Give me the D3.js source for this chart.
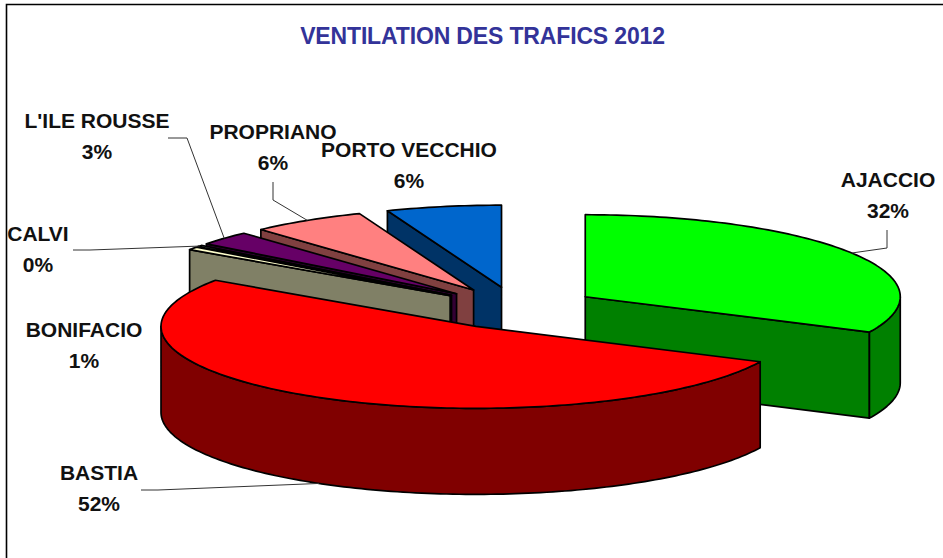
<!DOCTYPE html>
<html>
<head>
<meta charset="utf-8">
<script src="https://cdnjs.cloudflare.com/ajax/libs/d3/7.8.5/d3.min.js"></script>
<style>
  html, body { margin: 0; padding: 0; background: #fff; }
  svg { display: block; }
  text { font-family: "Liberation Sans", Arial, sans-serif; font-weight: bold; }
</style>
</head>
<body>
<div id="chart"></div>
<script>
// data, in pie order (clockwise from 12 o'clock)
var ports = ["AJACCIO", "BASTIA", "BONIFACIO", "CALVI", "L'ILE ROUSSE", "PROPRIANO", "PORTO VECCHIO"];
var shares = [32.1, 52.4, 0.6, 0.3, 2.8, 5.9, 5.9];
var topColors = ["#00ff00", "#ff0000", "#ffffcc", "#ccffff", "#660066", "#ff8080", "#0066cc"];
var sideColors = ["#008000", "#800000", "#808066", "#668080", "#330033", "#804040", "#003366"];
var chartTitle = "VENTILATION DES TRAFICS 2012";

var width = 943, height = 558;
var cx = 516.5, cy = 308;    // centre of the pie before it is exploded
var rx = 315, ry = 82;       // ellipse of one slice
var depth = 86;
var explode = 0.258;

// label placement and leader elbows, keyed by port
var labelPos = {
  "AJACCIO": { x: 888, y: 187, leader: [[887, 230], [887, 248]] },
  "BASTIA": { x: 99, y: 480, leader: [[141, 490], [158, 490]] },
  "BONIFACIO": { x: 84, y: 337 },
  "CALVI": { x: 38, y: 241, leader: [[73, 250], [90, 250]] },
  "L'ILE ROUSSE": { x: 97, y: 128, leader: [[168, 138], [187, 138]] },
  "PROPRIANO": { x: 273, y: 139, leader: [[273, 182], [273, 200]] },
  "PORTO VECCHIO": { x: 409, y: 157 }
};

var svg = d3.select("#chart").append("svg")
    .attr("width", width)
    .attr("height", height);

// chart frame (top and left only, the rest is cut off)
svg.append("path")
    .attr("d", "M6.5," + height + "V4.5H" + width)
    .attr("fill", "none")
    .attr("stroke", "#000")
    .attr("stroke-width", 1.6);

svg.append("text")
    .attr("x", 482.5)
    .attr("y", 44)
    .attr("text-anchor", "middle")
    .attr("fill", "#333399")
    .style("font-size", "23px")
    .style("letter-spacing", "-0.15px")
    .text(chartTitle);

var pie = d3.pie().sort(null).value(function(d) { return d.share; });
var slices = pie(ports.map(function(p, i) {
  return { port: p, share: shares[i], top: topColors[i], side: sideColors[i] };
}));

// flat pie coords -> screen
var xScale = d3.scaleLinear().domain([-1, 1]).range([cx - rx, cx + rx]);
var yScale = d3.scaleLinear().domain([-1, 1]).range([cy - ry, cy + ry]);
var line = d3.line();

function mid(d) { return (d.startAngle + d.endAngle) / 2; }

function apex(d) {
  return [explode * Math.sin(mid(d)), -explode * Math.cos(mid(d))];
}

function project(d, r, angle, drop) {
  var a = apex(d);
  return [
    xScale(a[0] + r * Math.sin(angle)),
    yScale(a[1] - r * Math.cos(angle)) + (drop || 0)
  ];
}

function arcPoints(d, from, to, drop) {
  var n = Math.max(2, Math.ceil((to - from) / 0.02));
  return d3.range(n + 1).map(function(i) {
    return project(d, 1, from + (to - from) * i / n, drop);
  });
}

function topFace(d) {
  return line([project(d, 0, 0)].concat(arcPoints(d, d.startAngle, d.endAngle))) + "Z";
}

// curved wall: only the part turned to the viewer
function outerWall(d) {
  var from = Math.max(d.startAngle, Math.PI / 2);
  var to = Math.min(d.endAngle, Math.PI * 1.5);
  if (from >= to) return null;
  return line(arcPoints(d, from, to).concat(arcPoints(d, from, to, depth).reverse())) + "Z";
}

// flat cut face, going from the centre out to the rim at this angle
function cutFace(d, angle) {
  return line([
    project(d, 0, 0), project(d, 1, angle),
    project(d, 1, angle, depth), project(d, 0, 0, depth)
  ]) + "Z";
}

// back to front
var drawOrder = [6, 5, 4, 3, 2, 0, 1];

var g = svg.append("g")
    .attr("stroke", "#000")
    .attr("stroke-width", 1.7)
    .attr("stroke-linejoin", "round");

drawOrder.forEach(function(idx) {
  var d = slices[idx];
  var s = g.append("g").attr("class", "slice");
  var faces = [];
  if (Math.sin(d.startAngle) < 0) faces.push(cutFace(d, d.startAngle));
  if (Math.sin(d.endAngle) > 0.001) faces.push(cutFace(d, d.endAngle));
  var wall = outerWall(d);
  if (wall) faces.push(wall);
  s.selectAll("path.side")
      .data(faces)
    .enter().append("path")
      .attr("class", "side")
      .attr("d", function(f) { return f; })
      .attr("fill", d.data.side);
  s.append("path")
      .attr("class", "top")
      .attr("d", topFace(d))
      .attr("fill", d.data.top);
});

// leaders run from the label elbow to the rim at the middle of the slice
var leaders = svg.append("g")
    .attr("fill", "none")
    .attr("stroke", "#333")
    .attr("stroke-width", 1);

slices.forEach(function(d) {
  var pos = labelPos[d.data.port];
  if (!pos.leader) return;
  var a = mid(d);
  // front rim sits at the foot of the wall
  var drop = Math.cos(a) < 0 ? depth : 0;
  leaders.append("path").attr("d", line(pos.leader.concat([project(d, 1, a, drop)])));
});

var percent = d3.format(".0f");
var labels = svg.append("g")
    .attr("text-anchor", "middle")
    .attr("fill", "#111")
    .style("font-size", "21px");

slices.forEach(function(d) {
  var pos = labelPos[d.data.port];
  labels.append("text").attr("x", pos.x).attr("y", pos.y).text(d.data.port);
  labels.append("text").attr("x", pos.x).attr("y", pos.y + 30.5).text(percent(d.data.share) + "%");
});
</script>
</body>
</html>
